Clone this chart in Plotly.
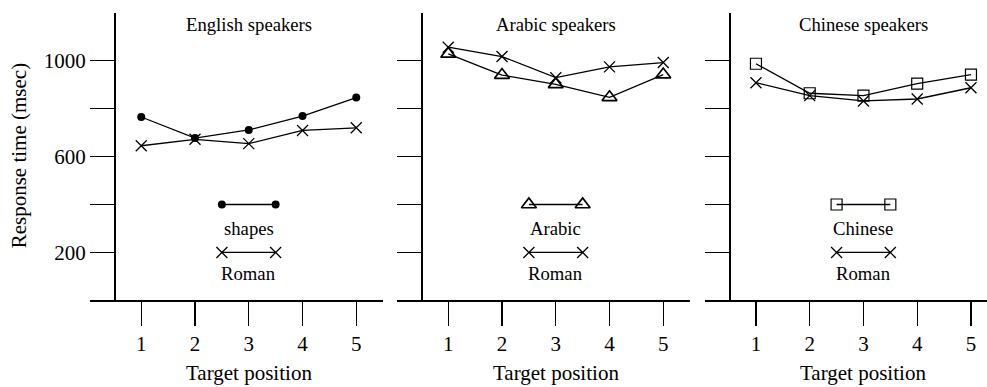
import plotly.graph_objects as go

# ---- data ----
positions = [1, 2, 3, 4, 5]

english_shapes = [765, 677, 711, 769, 846]
english_roman = [645, 672, 654, 709, 720]

arabic_arabic = [1028, 940, 901, 847, 942]
arabic_roman = [1056, 1017, 929, 974, 992]

chinese_chinese = [987, 864, 854, 904, 942]
chinese_roman = [908, 854, 832, 840, 887]

panel_titles = ["English speakers", "Arabic speakers", "Chinese speakers"]
legend_labels = [["shapes", "Roman"], ["Arabic", "Roman"], ["Chinese", "Roman"]]
legend_x = [2.5, 3.5]
legend_y = [400, 200]
legend_label_y = [300, 112]

y_tickvals = [200, 400, 600, 800, 1000]
y_ticktext = ["200", "", "600", "", "1000"]

# ---- layout constants ----
W, H = 987, 387
FONT = "Liberation Serif"
PX_PER_UNIT = 53.75
X0 = 0.05
panel_left_px = [90.2, 397.2, 704.9]
panel_right_px = [383.1, 690.1, 987.0]
y_top_px, y_bot_px = 12.7, 300.4
yaxis_x = 0.5

fig = go.Figure()

series = [
    (english_shapes, dict(symbol="circle", size=8, color="black"), english_roman),
    (arabic_arabic, dict(symbol="triangle-up-open", size=13, color="black",
                         line=dict(width=1.7, color="black")), arabic_roman),
    (chinese_chinese, dict(symbol="square-open", size=11, color="black",
                           line=dict(width=1.2, color="black")), chinese_roman),
]
roman_marker = dict(symbol="x-thin-open", size=11, color="black",
                    line=dict(width=1.3, color="black"))

for i, (first, first_marker, roman) in enumerate(series):
    xa = "x" if i == 0 else f"x{i+1}"
    ya = "y" if i == 0 else f"y{i+1}"
    for vals, mk in [(first, first_marker), (roman, roman_marker)]:
        fig.add_trace(go.Scatter(x=positions, y=vals, mode="lines+markers",
                                 line=dict(color="black", width=1.3),
                                 marker=mk, xaxis=xa, yaxis=ya,
                                 showlegend=False, hoverinfo="skip"))
    # in-panel legend samples
    for ly, mk in zip(legend_y, [first_marker, roman_marker]):
        fig.add_trace(go.Scatter(x=legend_x, y=[ly, ly], mode="lines+markers",
                                 line=dict(color="black", width=1.3),
                                 marker=mk, xaxis=xa, yaxis=ya,
                                 showlegend=False, hoverinfo="skip"))
    for lab, lyy in zip(legend_labels[i], legend_label_y):
        fig.add_annotation(x=3, y=lyy, xref=xa, yref=ya, text=lab,
                           showarrow=False, xanchor="center", yanchor="middle",
                           font=dict(family=FONT, size=18.7, color="black"))

    # axes
    l, r = panel_left_px[i], panel_right_px[i]
    x_end = X0 + (r - l) / PX_PER_UNIT
    dom = [l / W, r / W]
    ydom = [1 - y_bot_px / H, 1 - y_top_px / H]
    ypos = (l + (yaxis_x - X0) * PX_PER_UNIT) / W
    xkey = "xaxis" if i == 0 else f"xaxis{i+1}"
    ykey = "yaxis" if i == 0 else f"yaxis{i+1}"
    fig.update_layout(**{
        xkey: dict(domain=dom, range=[X0, x_end], anchor=ya,
                   tickvals=positions, ticks="outside", ticklen=24,
                   tickwidth=1.3, tickcolor="black", showline=True,
                   linecolor="black", linewidth=1.5, showgrid=False,
                   zeroline=False, tickfont=dict(family=FONT, size=21, color="black")),
        ykey: dict(domain=ydom, range=[0, 1200], anchor="free", position=ypos,
                   tickvals=y_tickvals, ticktext=y_ticktext,
                   showticklabels=(i == 0), ticks="outside", ticklen=24.5,
                   tickwidth=1.3, tickcolor="black", showline=True,
                   linecolor="black", linewidth=1.5, showgrid=False,
                   zeroline=False, tickfont=dict(family=FONT, size=21, color="black")),
    })
    fig.add_annotation(x=3, y=1 - 25 / H, xref=xa, yref="paper",
                       text=panel_titles[i], showarrow=False,
                       xanchor="center", yanchor="middle",
                       font=dict(family=FONT, size=18.7, color="black"))
    fig.add_annotation(x=3, y=1 - 373 / H, xref=xa, yref="paper",
                       text="Target position", showarrow=False,
                       xanchor="center", yanchor="middle",
                       font=dict(family=FONT, size=21, color="black"))

fig.add_annotation(x=19.3 / W, y=1 - 156 / H, xref="paper", yref="paper",
                   text="Response time (msec)", textangle=-90, showarrow=False,
                   xanchor="center", yanchor="middle",
                   font=dict(family=FONT, size=21, color="black"))

fig.update_layout(width=W, height=H, margin=dict(l=0, r=0, t=0, b=0),
                  paper_bgcolor="white", plot_bgcolor="white",
                  font=dict(family=FONT, color="black"))

fig.write_html("out.html",
               config={"displayModeBar": False, "staticPlot": True},
               post_script="document.body.style.margin='0';"
                           "document.body.style.overflow='hidden';")
